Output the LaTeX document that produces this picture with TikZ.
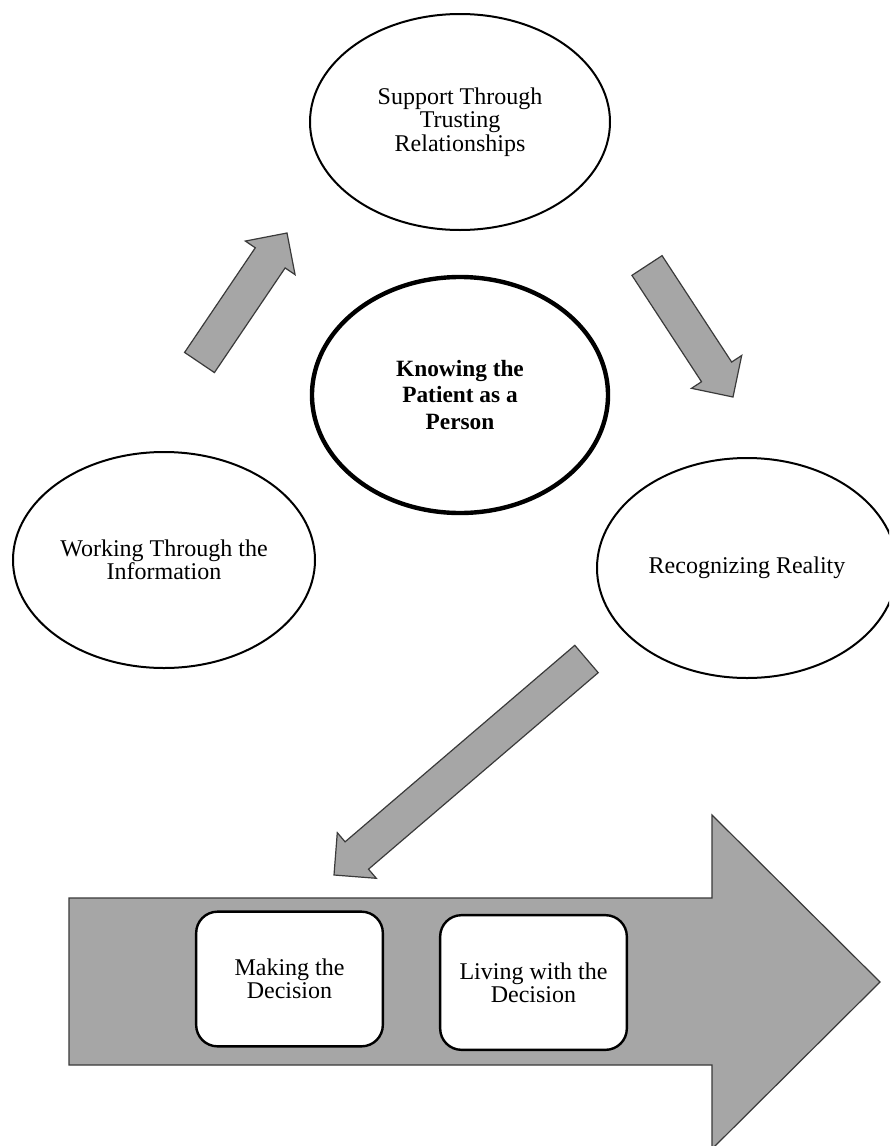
\documentclass[tikz,border=0pt]{standalone}
\usepackage{fontspec}
\setmainfont{Liberation Serif}
\usetikzlibrary{shapes.geometric,calc}
\definecolor{arrowgray}{HTML}{A6A6A6}
\definecolor{arrowline}{HTML}{3A3A3A}
\newcommand\myblockarrow[2]{%
  \coordinate (neck) at ($(#2)!22.5pt!(#1)$);
  \draw[blockarrow] ($(#1)!13.5pt!90:(#2)$) -- ($(neck)!13.5pt!90:(#2)$) -- ($(neck)!22.5pt!90:(#2)$) -- (#2)
    -- ($(neck)!22.5pt!-90:(#2)$) -- ($(neck)!13.5pt!-90:(#2)$) -- ($(#1)!13.5pt!-90:(#2)$) -- cycle;}
\begin{document}
\begin{tikzpicture}[x=0.75pt,y=-0.75pt,
  oval/.style={ellipse,draw=black,line width=1.5pt,fill=white,align=center,inner sep=0pt,
    font=\fontsize{18}{17.5}\selectfont},
  core/.style={oval,line width=3.3pt,font=\fontsize{17.5}{20}\selectfont\bfseries},
  stage/.style={rectangle,rounded corners=16pt,draw=black,line width=1.8pt,fill=white,align=center,
    font=\fontsize{18}{17.5}\selectfont,minimum width=140pt,minimum height=101pt},
  blockarrow/.style={fill=arrowgray,draw=arrowline,line width=0.9pt,line join=miter}
]
\clip (0,0) rectangle (889,1146);
\fill[white] (0,0) rectangle (889,1146);

% big process arrow
\coordinate (bigtip) at (880,982);
\draw[blockarrow] (69,898) -- (712,898) -- (712,815) -- (bigtip) -- (712,1149) -- (712,1065) -- (69,1065) -- cycle;

% ellipses
\node[oval,minimum width=225pt,minimum height=162pt] (support) at (460,122) {Support Through\\Trusting\\Relationships};
\node[core,minimum width=222pt,minimum height=177pt] (knowing) at (460,395) {Knowing the\\Patient as a\\Person};
\node[oval,minimum width=226.5pt,minimum height=162pt] (working) at (164,560) {Working Through the\\Information};
\node[oval,minimum width=225pt,minimum height=165pt] (reality) at (747,568) {Recognizing Reality};

% stage boxes
\node[stage] (making) at (289.5,979) {Making the\\Decision};
\node[stage] (living) at (533.5,982.5) {Living with the\\Decision};

% flow arrows
\coordinate (a1t) at (199.5,362.5); \coordinate (a1h) at (287,233);
\coordinate (a2t) at (647,265.5);   \coordinate (a2h) at (733,397);
\coordinate (a3t) at (586.5,659);   \coordinate (a3h) at (334,875);
\myblockarrow{a1t}{a1h}
\myblockarrow{a2t}{a2h}
\myblockarrow{a3t}{a3h}
\end{tikzpicture}
\end{document}
